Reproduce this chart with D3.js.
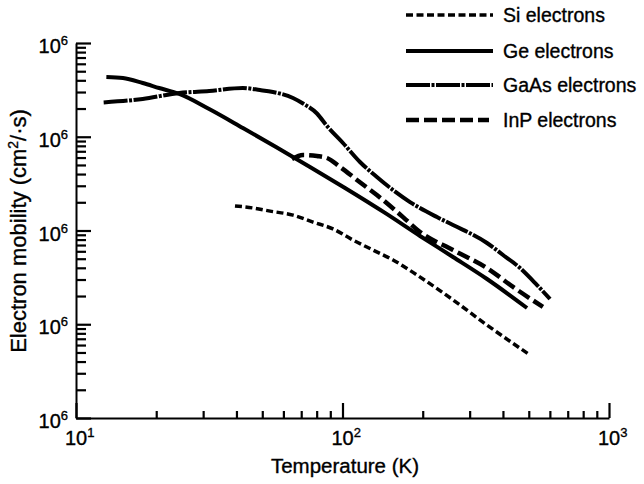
<!DOCTYPE html>
<html>
<head>
<meta charset="utf-8">
<script src="https://cdn.jsdelivr.net/npm/d3@7/dist/d3.min.js"></script>
<style>
  body { margin: 0; background: #fff; }
  svg { display: block; font-family: "Liberation Sans", Arial, Helvetica, sans-serif; }
  text { fill: #000; stroke: #000; stroke-width: 0.35px; }
</style>
</head>
<body>
<svg id="chart" width="644" height="484"></svg>
<script>
/* Electron mobility vs temperature, log-log, four semiconductors */

const seriesNames = ["Si electrons", "Ge electrons", "GaAs electrons", "InP electrons"];

const siTemp = [39.5, 46.1, 53.5, 65.2, 77.5, 92.1, 109.4, 130.1, 154.7, 190.4, 259.8, 348.5, 505];
const siMobility = [18300, 17400, 16100, 14600, 12300, 10400, 7920, 6190, 4850, 3350, 1820, 980, 470];

const geTemp = [13.0, 15.0, 17.8, 20.5, 24.4, 31.6, 42.3, 56.3, 75.5, 102.2, 144.4, 195.4, 259.8, 348.5, 492.5];
const geMobility = [434000, 423000, 374000, 331000, 286000, 197700, 124000, 77800, 47600, 28400, 15400, 8740, 5220, 3040, 1490];

const gaasTemp = [12.7, 17.8, 24.4, 31.6, 42.3, 49.0, 54.8, 65.2, 71.1, 80.2, 87.5, 100.4, 116.3, 134.6, 154.7, 179.2, 226.2, 259.8, 348.5, 400.3, 463.6, 536.9, 600.6];
const gaasMobility = [232000, 253000, 293000, 308000, 331000, 315000, 300000, 259000, 226000, 177000, 130000, 85800, 53800, 37200, 27000, 20100, 13900, 11450, 7360, 5480, 3980, 2620, 1860];

const inpTemp = [64.6, 71.1, 80.2, 87.5, 97.9, 113.3, 134.6, 168.7, 195.4, 259.8, 348.5, 436.5, 565];
const inpMobility = [57900, 63900, 62300, 59300, 47600, 34600, 23900, 13900, 9640, 6190, 3980, 2500, 1530];

const xMajorTicks = [10, 100, 1000];
const xTickExponents = ["1", "2", "3"];
const yMajorTicks = [1e2, 1e3, 1e4, 1e5, 1e6];
const yTickExponents = ["6", "6", "6", "6", "6"]; // as printed on the original

const xTitle = "Temperature (K)";

const svg = d3.select("#chart");

const x = d3.scaleLog().domain([10, 1000]).range([76, 609]);
const y = d3.scaleLog().domain([1e2, 1e6]).range([418, 43]);

function minorTicks(majors) {
  const out = [];
  majors.slice(0, -1).forEach((d) => {
    for (let k = 2; k <= 9; k++) out.push(k * d);
  });
  return out;
}

// y axis, ticks point into the plot
const yAxisG = svg.append("g").attr("transform", `translate(${x.range()[0]},0)`);
yAxisG.append("g")
  .call(d3.axisRight(y).tickValues(minorTicks(yMajorTicks)).tickSize(10).tickSizeOuter(0).tickFormat(""))
  .call((g) => g.select(".domain").remove());
yAxisG.append("g")
  .call(d3.axisRight(y).tickValues(yMajorTicks).tickSize(15).tickSizeOuter(0).tickFormat(""));
yAxisG.selectAll("line").attr("stroke", "#000").attr("stroke-width", 2.2);
yAxisG.selectAll(".domain").attr("stroke", "#000").attr("stroke-width", 2);

// x axis, ticks point up
const xAxisG = svg.append("g").attr("transform", `translate(0,${y.range()[0]})`);
xAxisG.append("g")
  .call(d3.axisTop(x).tickValues(minorTicks(xMajorTicks)).tickSize(7).tickSizeOuter(0).tickFormat(""))
  .call((g) => g.select(".domain").remove());
xAxisG.append("g")
  .call(d3.axisTop(x).tickValues(xMajorTicks).tickSize(15).tickSizeOuter(0).tickFormat(""));
xAxisG.selectAll("line").attr("stroke", "#000").attr("stroke-width", 2.2);
xAxisG.selectAll(".domain").attr("stroke", "#000").attr("stroke-width", 2);

// power-of-ten labels
yMajorTicks.forEach((v, i) => {
  const t = svg.append("text")
    .attr("x", x.range()[0] - 8)
    .attr("y", y(v) + 10)
    .attr("text-anchor", "end")
    .attr("font-size", 20);
  t.append("tspan").text("10");
  t.append("tspan").attr("dy", -8).attr("font-size", 13).text(yTickExponents[i]);
});

xMajorTicks.forEach((v, i) => {
  const t = svg.append("text")
    .attr("x", x(v) - 11)
    .attr("y", 445)
    .attr("font-size", 20);
  t.append("tspan").text("10");
  t.append("tspan").attr("dy", -8).attr("font-size", 13).text(xTickExponents[i]);
});

svg.append("text")
  .attr("x", 345)
  .attr("y", 473)
  .attr("text-anchor", "middle")
  .attr("font-size", 20.5)
  .text(xTitle);

const yTitle = svg.append("text")
  .attr("transform", "translate(26,231) rotate(-90)")
  .attr("text-anchor", "middle")
  .attr("font-size", 22);
yTitle.append("tspan").text("Electron mobility (cm");
yTitle.append("tspan").attr("dy", -8).attr("font-size", 14).text("2");
yTitle.append("tspan").attr("dy", 8).text("/·s)");

// curves
const styles = [
  { dash: "7,3.5", width: 3.5 },
  { dash: null, width: 4 },
  { dash: "24,1.5,3,1.5", width: 4 },
  { dash: "13,5", width: 4.5 },
];

const seriesData = [
  d3.zip(siTemp, siMobility),
  d3.zip(geTemp, geMobility),
  d3.zip(gaasTemp, gaasMobility),
  d3.zip(inpTemp, inpMobility),
];

const line = d3.line()
  .x((d) => x(d[0]))
  .y((d) => y(d[1]))
  .curve(d3.curveMonotoneX);

svg.append("g")
  .selectAll("path")
  .data(seriesData)
  .join("path")
  .attr("d", line)
  .attr("fill", "none")
  .attr("stroke", "#000")
  .attr("stroke-width", (d, i) => styles[i].width)
  .attr("stroke-dasharray", (d, i) => styles[i].dash);

// legend
const legendRows = [15, 51, 85, 120];
const legend = svg.append("g");
seriesNames.forEach((name, i) => {
  legend.append("line")
    .attr("x1", 406).attr("x2", i === 3 ? 489 : 493)
    .attr("y1", legendRows[i]).attr("y2", legendRows[i])
    .attr("stroke", "#000")
    .attr("stroke-width", styles[i].width)
    .attr("stroke-dasharray", styles[i].dash);
  legend.append("text")
    .attr("x", 503)
    .attr("y", legendRows[i] + 7)
    .attr("font-size", 19.5)
    .text(name);
});
</script>
</body>
</html>
